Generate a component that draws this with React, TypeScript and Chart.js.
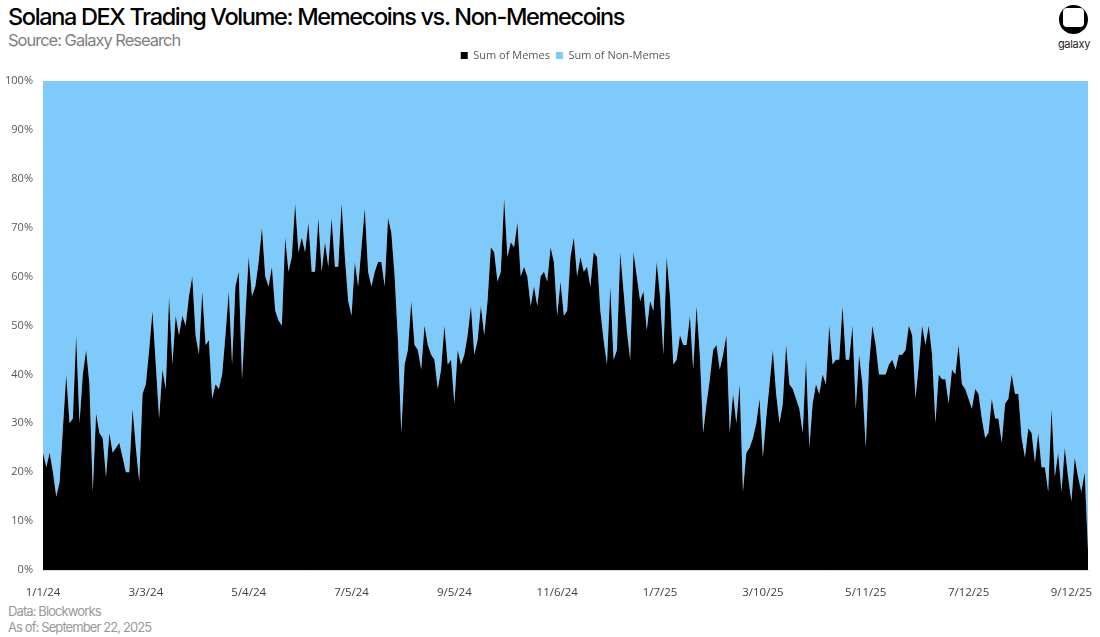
import React, { useEffect, useRef } from "react";
import { Chart, registerables } from "chart.js";

Chart.register(...registerables);

const START_DATE = "2024-01-01";
const STEP_DAYS = 2;
const TICK_EVERY = 31;
const TICK_LABELS = ["1/1/24", "3/3/24", "5/4/24", "7/5/24", "9/5/24", "11/6/24", "1/7/25", "3/10/25", "5/11/25", "7/12/25", "9/12/25"];

const MEMES_2024_Q1 = [24, 21, 24, 20, 15, 18, 29, 40, 30, 31, 48, 30, 40, 45, 38, 16, 32, 28, 27, 19, 28, 24, 25, 26, 23, 20, 20, 33, 25, 18, 36, 38, 45, 53, 42, 31, 41, 37, 56, 42, 52, 48];
const MEMES_2024_Q2 = [52, 50, 56, 60, 48, 44, 57, 46, 47, 35, 38, 37, 40, 48, 57, 42, 58, 61, 39, 52, 64, 56, 58, 63, 70, 60, 58, 62, 53, 51, 50, 68, 61, 64, 75, 65, 68, 65, 71, 61, 61, 72, 61, 67, 62, 72, 62, 62, 75, 64, 55];
const MEMES_2024_Q3 = [52, 63, 58, 66, 74, 61, 58, 61, 63, 63, 58, 72, 69, 60, 47, 28, 42, 45, 55, 46, 45, 41, 50, 46, 44, 43, 37, 41, 50, 42, 43, 34, 45, 42, 44, 48, 54, 44, 47, 54, 48, 55, 66, 65, 59, 61, 76, 64, 67, 66, 71];
const MEMES_2024_Q4 = [60, 62, 60, 54, 58, 54, 60, 61, 59, 66, 63, 52, 59, 52, 53, 64, 68, 60, 64, 61, 62, 58, 65, 64, 53, 47, 42, 58, 43, 45, 65, 57, 49, 43, 65, 60, 55, 57, 49, 55, 53, 63, 56, 44, 64, 56, 42, 43, 48, 46, 46];
const MEMES_2025_H1 = [52, 41, 54, 44, 28, 34, 39, 45, 46, 41, 44, 48, 28, 36, 30, 38, 16, 24, 25, 27, 30, 35, 23, 31, 38, 45, 36, 30, 34, 46, 38, 37, 35, 33, 28, 43, 25, 34, 38, 36, 40, 38, 50, 42, 43, 43, 54, 43, 43, 50, 33];
const MEMES_2025_Q3 = [44, 38, 25, 42, 50, 46, 40, 40, 40, 42, 43, 41, 44, 44, 45, 50, 48, 35, 42, 50, 46, 50, 44, 30, 40, 39, 39, 34, 41, 40, 46, 38, 37, 35, 33, 37, 36, 31, 27, 28, 35, 31, 31, 26, 34, 35, 40, 36, 36, 27, 23];
const MEMES_2025_END = [29, 28, 22, 28, 21, 21, 16, 33, 19, 24, 16, 25, 19, 14, 23, 19, 16, 20, 4];

const MEMES = [...MEMES_2024_Q1, ...MEMES_2024_Q2, ...MEMES_2024_Q3, ...MEMES_2024_Q4, ...MEMES_2025_H1, ...MEMES_2025_Q3, ...MEMES_2025_END];
const NON_MEMES = MEMES.map((m) => 100 - m);

const CATEGORIES = MEMES.map((_, i) => {
  const d = new Date(START_DATE + "T00:00:00Z");
  d.setUTCDate(d.getUTCDate() + i * STEP_DAYS);
  return `${d.getUTCMonth() + 1}/${d.getUTCDate()}/${String(d.getUTCFullYear()).slice(2)}`;
});

const BLUE = "#7ECBFB";
const AXIS_FONT = "'Open Sans', 'Liberation Sans', sans-serif";
const HEAD_FONT = "Inter, 'Noto Sans', sans-serif";

const legendMargin = {
  id: "legendMargin",
  beforeInit(chart: any) {
    const orig = chart.legend.fit;
    chart.legend.fit = function fit() {
      orig.bind(chart.legend)();
      this.height += 10;
    };
  },
};

export default function App() {
  const ref = useRef<HTMLCanvasElement | null>(null);

  useEffect(() => {
    document.body.style.margin = "0";
    const chart = new Chart(ref.current as HTMLCanvasElement, {
      type: "line",
      data: {
        labels: CATEGORIES,
        datasets: [
          {
            label: "Sum of Memes",
            data: MEMES,
            backgroundColor: "#000000",
            borderColor: "#000000",
            borderWidth: 0,
            pointRadius: 0,
            fill: "origin",
            tension: 0,
          },
          {
            label: "Sum of Non-Memes",
            data: NON_MEMES,
            backgroundColor: BLUE,
            borderColor: BLUE,
            borderWidth: 0,
            pointRadius: 0,
            fill: "-1",
            tension: 0,
          },
        ],
      },
      options: {
        responsive: false,
        animation: false,
        layout: { padding: { left: 0, right: 12, top: 0, bottom: 0 } },
        plugins: {
          tooltip: { enabled: false },
          legend: {
            position: "top",
            fullSize: false,
            labels: {
              usePointStyle: true,
              pointStyle: "rect",
              boxWidth: 7,
              boxHeight: 7,
              padding: 6,
              color: "#595959",
              font: { family: AXIS_FONT, size: 11 },
            },
          },
        },
        scales: {
          x: {
            grid: { display: false },
            border: { display: true, color: "#d9d9d9", width: 1 },
            ticks: {
              autoSkip: false,
              maxRotation: 0,
              minRotation: 0,
              padding: 8,
              color: "#404040",
              font: { family: AXIS_FONT, size: 11.5 },
              callback: (_v: any, idx: number) =>
                idx % TICK_EVERY === 0 ? TICK_LABELS[idx / TICK_EVERY] ?? "" : "",
            },
            afterFit: (s: any) => {
              s.height = 30;
            },
          },
          y: {
            stacked: true,
            min: 0,
            max: 100,
            grid: { display: false },
            border: { display: false },
            ticks: {
              stepSize: 10,
              padding: 2,
              color: "#595959",
              font: { family: AXIS_FONT, size: 11 },
              callback: (v: any) => `${v}%`,
            },
            afterFit: (s: any) => {
              s.width = 43;
            },
          },
        },
      },
      plugins: [legendMargin],
    });
    return () => chart.destroy();
  }, []);

  return (
    <div style={{ position: "absolute", left: 0, top: 0, width: 1100, height: 637, background: "#fff", overflow: "hidden" }}>
      <div style={{ position: "absolute", left: 8, top: 3, fontFamily: HEAD_FONT, fontSize: 23.5, fontWeight: 500, letterSpacing: -1.35, color: "#000", lineHeight: "28px", whiteSpace: "nowrap" }}>
        Solana DEX Trading Volume: Memecoins vs. Non-Memecoins
      </div>
      <div style={{ position: "absolute", left: 8, top: 30, fontFamily: HEAD_FONT, fontSize: 16.5, fontWeight: 400, letterSpacing: -1, color: "#7f7f7f", lineHeight: "20px", whiteSpace: "nowrap" }}>
        Source: Galaxy Research
      </div>
      <div style={{ position: "absolute", left: 1059, top: 5, width: 29, height: 29, borderRadius: "50%", background: "#000" }}>
        <div style={{ position: "absolute", left: 4, top: 3, width: 21, height: 19, borderRadius: 4, background: "#fff" }} />
      </div>
      <div style={{ position: "absolute", left: 1054, top: 37, width: 40, textAlign: "center", fontFamily: HEAD_FONT, fontSize: 11, letterSpacing: -0.3, color: "#222", lineHeight: "14px" }}>
        galaxy
      </div>
      <div style={{ position: "absolute", left: 0, top: 44 }}>
        <canvas ref={ref} width={1100} height={556} style={{ display: "block", width: 1100, height: 556 }} />
      </div>
      <div style={{ position: "absolute", left: 8, top: 603, fontFamily: HEAD_FONT, fontSize: 13, letterSpacing: -0.9, color: "#999", lineHeight: "16px", whiteSpace: "nowrap" }}>
        Data: Blockworks
      </div>
      <div style={{ position: "absolute", left: 8, top: 619, fontFamily: HEAD_FONT, fontSize: 13, letterSpacing: -0.9, color: "#999", lineHeight: "16px", whiteSpace: "nowrap" }}>
        As of: September 22, 2025
      </div>
    </div>
  );
}
